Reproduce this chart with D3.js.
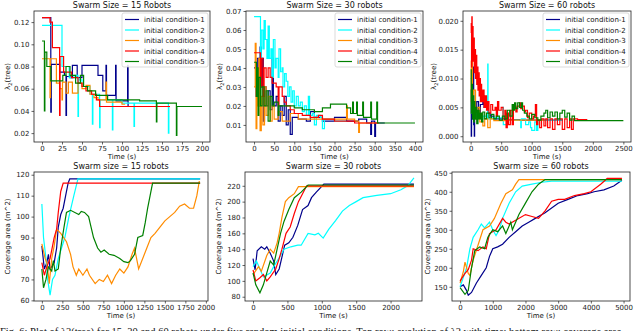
<!DOCTYPE html>
<html>
<head>
<meta charset="utf-8">
<script src="https://cdn.jsdelivr.net/npm/d3@7"></script>
<style>
  body { margin: 0; background: #fff; }
  svg { display: block; font-family: "DejaVu Sans", sans-serif; }
</style>
</head>
<body>
<svg id="chart" width="640" height="331"></svg>
<script>
// Series names / colours
const seriesNames = ['initial condition-1', 'initial condition-2', 'initial condition-3', 'initial condition-4', 'initial condition-5'];
const seriesColors = ['#00008b', '#00ffff', '#ff8c00', '#ff0000', '#008000'];

// ---- lambda2(tree), 15 robots : [time, value]
const lam15_1 = [[0,0.124],[11,0.124],[11,0.039],[11.6,0.082],[20,0.082],[22,0.075],[28,0.072],[30,0.036],[30.6,0.071],[35,0.07],[38,0.081],[42,0.081],[44,0.07],[50,0.081],[70,0.081],[70,0.072],[76,0.072],[76,0.058],[80,0.058],[80,0.081],[80.6,0.054],[92,0.054],[92,0.081],[92.6,0.049],[107,0.049],[107,0.081],[107.6,0.044],[112,0.044]];
const lam15_2 = [[0,0.117],[25,0.117],[25,0.08],[32,0.08],[34,0.07],[40,0.072],[45,0.035],[45.6,0.068],[50,0.062],[58,0.062],[60,0.055],[63,0.028],[63.6,0.055],[72,0.025],[72.6,0.05],[88,0.023],[88.6,0.05],[100,0.047],[115,0.026],[115.6,0.047],[158,0.047],[158,0.02],[158.6,0.044]];
const lam15_3 = [[0,0.087],[8,0.087],[10,0.052],[10.6,0.087],[15,0.087],[18,0.065],[22,0.06],[25,0.05],[25.6,0.066],[30,0.056],[33,0.066],[38,0.056],[45,0.065],[50,0.06],[55,0.063],[60,0.055],[65,0.052],[70,0.05],[80,0.066],[80.6,0.048],[95,0.048],[100,0.046],[104,0.046]];
const lam15_4 = [[0,0.124],[10,0.124],[10,0.12],[13,0.097],[20,0.097],[22,0.036],[22.6,0.089],[25,0.089],[27,0.075],[35,0.075],[37,0.07],[45,0.065],[50,0.062],[55,0.058],[62,0.055],[68,0.05],[72,0.044],[160,0.044]];
const lam15_5 = [[0,0.103],[3,0.103],[3,0.04],[3.6,0.093],[5,0.093],[6,0.08],[10,0.08],[11,0.067],[25,0.067],[26,0.072],[30,0.08],[35,0.072],[40,0.072],[42,0.065],[48,0.072],[52,0.062],[57,0.058],[65,0.058],[67,0.054],[80,0.054],[82,0.05],[120,0.05],[122,0.049],[143,0.049],[143,0.03],[143.6,0.047],[168,0.047],[168,0.018],[168.6,0.044],[200,0.044]];

// ---- lambda2(tree), 30 robots
const lam30_1 = [[0,0.04],[5,0.025],[8,0.045],[12,0.02],[15,0.051],[18,0.03],[20,0.045],[23,0.012],[26,0.03],[30,0.02],[35,0.028],[40,0.018],[45,0.045],[48,0.02],[55,0.025],[60,0.012],[65,0.02],[70,0.015],[75,0.025],[80,0.01],[85,0.018],[90,0.005],[95,0.014],[110,0.013],[130,0.012],[140,0.017],[150,0.014],[170,0.012],[200,0.014],[230,0.012],[260,0.013],[280,0.011],[290,0.005],[292,0.012],[300,0.004],[302,0.011],[325,0.011]];
const lam30_2 = [[0,0.067],[15,0.067],[16,0.045],[18,0.06],[22,0.05],[25,0.065],[28,0.055],[32,0.045],[35,0.062],[38,0.045],[42,0.05],[45,0.035],[48,0.055],[52,0.04],[55,0.045],[60,0.035],[62,0.05],[66,0.038],[70,0.04],[72,0.03],[76,0.037],[80,0.033],[84,0.025],[88,0.03],[92,0.022],[96,0.028],[100,0.02],[105,0.025],[110,0.02],[115,0.022],[120,0.017],[125,0.02],[130,0.015],[135,0.025],[138,0.015],[145,0.016],[150,0.01],[155,0.015],[165,0.014],[170,0.008],[175,0.013],[190,0.013],[200,0.012],[230,0.012]];
const lam30_3 = [[0,0.03],[3,0.053],[5,0.008],[7,0.035],[10,0.02],[12,0.045],[15,0.007],[18,0.025],[22,0.01],[26,0.03],[30,0.015],[35,0.025],[40,0.012],[45,0.02],[50,0.013],[60,0.017],[70,0.012],[90,0.016],[110,0.013],[150,0.013],[200,0.013],[228,0.013],[230,0.02],[232,0.013],[250,0.012],[260,0.006],[262,0.011],[310,0.011]];
const lam30_4 = [[0,0.048],[15,0.048],[16,0.03],[18,0.045],[22,0.025],[25,0.04],[30,0.035],[35,0.04],[40,0.035],[45,0.032],[55,0.03],[60,0.02],[62,0.03],[70,0.025],[75,0.022],[80,0.02],[90,0.018],[100,0.016],[120,0.015],[140,0.014],[160,0.015],[170,0.013],[200,0.012],[250,0.011],[310,0.011]];
const lam30_5 = [[0,0.043],[5,0.043],[6,0.025],[8,0.04],[10,0.015],[12,0.035],[16,0.02],[20,0.03],[25,0.02],[30,0.028],[35,0.012],[40,0.025],[45,0.02],[50,0.022],[60,0.015],[62,0.02],[80,0.02],[100,0.019],[120,0.018],[150,0.017],[170,0.019],[190,0.021],[230,0.019],[240,0.016],[245,0.022],[247,0.016],[255,0.022],[257,0.015],[270,0.022],[272,0.014],[290,0.022],[292,0.013],[305,0.022],[307,0.011],[400,0.011]];

// ---- lambda2(tree), 60 robots
const lam60_1 = [[0,0.008],[10,0.0],[15,0.006],[30,0.003],[40,0.012],[50,0.002],[60,0.0],[65,0.005],[80,0.003],[100,0.006],[130,0.0035],[160,0.0055],[200,0.007],[220,0.005],[250,0.0055],[280,0.004],[320,0.0035],[380,0.003],[450,0.003],[550,0.0029],[800,0.0028],[1200,0.0028],[1500,0.0027]];
const lam60_2 = [[0,0.01],[20,0.004],[40,0.006],[60,0.003],[100,0.004],[150,0.003],[200,0.0035],[270,0.003],[280,0.0125],[285,0.003],[350,0.0032],[520,0.003],[530,0.005],[535,0.002],[600,0.0028],[800,0.0028],[820,0.0015],[830,0.003],[900,0.002],[950,0.0025],[980,0.0015],[1000,0.001],[1050,0.0025],[1080,0.001],[1100,0.0028],[1500,0.0027]];
const lam60_3 = [[0,0.013],[10,0.006],[20,0.015],[30,0.004],[50,0.008],[80,0.003],[120,0.005],[150,0.0025],[200,0.0018],[230,0.003],[280,0.0015],[320,0.003],[380,0.0027],[600,0.0028],[900,0.0028],[1200,0.0027]];
const lam60_4 = [[0,0.018],[10,0.0195],[15,0.012],[20,0.0207],[25,0.015],[30,0.019],[40,0.013],[50,0.017],[60,0.011],[70,0.015],[80,0.010],[90,0.014],[100,0.009],[110,0.012],[120,0.008],[130,0.011],[140,0.007],[150,0.010],[160,0.006],[170,0.009],[180,0.006],[200,0.008],[220,0.005],[240,0.007],[260,0.0045],[280,0.006],[300,0.004],[330,0.0055],[360,0.0045],[400,0.005],[420,0.0035],[440,0.006],[460,0.0045],[500,0.005],[530,0.003],[560,0.0045],[580,0.0015],[600,0.004],[620,0.002],[650,0.0045],[680,0.002],[700,0.005],[740,0.0042],[760,0.0052],[800,0.0058],[820,0.0048],[850,0.0052],[880,0.0042],[900,0.0045],[930,0.0032],[960,0.004],[1000,0.003],[1030,0.0035],[1060,0.0055],[1080,0.002],[1100,0.0028],[1130,0.0015],[1160,0.003],[1200,0.0018],[1230,0.003],[1260,0.0015],[1300,0.003],[1340,0.0012],[1380,0.003],[1420,0.002],[1460,0.003],[1500,0.0012],[1540,0.003],[1580,0.0015],[1620,0.003],[1650,0.0012],[1680,0.003],[1750,0.0029],[1900,0.0028]];
const lam60_5 = [[0,0.0115],[10,0.004],[20,0.009],[30,0.003],[40,0.007],[50,0.0025],[60,0.006],[70,0.003],[80,0.005],[100,0.0022],[120,0.0045],[140,0.003],[160,0.004],[180,0.0025],[200,0.0042],[230,0.003],[260,0.004],[300,0.0032],[340,0.0038],[380,0.003],[420,0.0035],[470,0.0028],[520,0.0035],[560,0.003],[600,0.0045],[640,0.0035],[680,0.0055],[700,0.0045],[720,0.0058],[740,0.0048],[770,0.0058],[800,0.005],[830,0.0058],[850,0.0045],[880,0.004],[920,0.0035],[960,0.003],[1000,0.0038],[1050,0.0032],[1100,0.0028],[1150,0.0035],[1200,0.004],[1230,0.0045],[1260,0.0032],[1300,0.0042],[1340,0.0035],[1380,0.0042],[1420,0.003],[1460,0.004],[1500,0.0045],[1540,0.0033],[1580,0.004],[1620,0.0028],[1660,0.0035],[1700,0.0027],[2500,0.0027]];

// ---- coverage area (m^2), 15 robots
const cov15_1 = [[0,86],[30,75],[60,78],[80,82],[100,75],[150,78],[180,85],[200,95],[230,101],[260,104],[290,110],[320,116],[340,118],[1930,118]];
const cov15_2 = [[0,106],[20,90],[50,80],[70,70],[100,62.5],[130,70],[160,72],[200,80],[280,90],[330,100],[390,110],[440,118],[1930,118]];
const cov15_3 = [[0,87],[40,80],[60,78],[80,72],[90,68],[120,80],[150,86],[180,94],[230,92],[300,88],[350,82],[380,76],[420,72],[450,75],[500,72],[550,75],[580,72],[650,68],[700,70],[750,69],[800,72],[850,68],[900,72],[950,75],[1000,73],[1050,76],[1100,82],[1130,85],[1180,75],[1230,80],[1280,85],[1330,90],[1380,92],[1440,95],[1500,98],[1560,100],[1620,102],[1680,105],[1740,106],[1800,104],[1850,104],[1890,110],[1920,117]];
const cov15_4 = [[0,78],[30,72],[60,76],[100,80],[150,90],[180,94],[200,102],[230,112],[260,116],[1930,116]];
const cov15_5 = [[0,75],[20,66],[50,70],[80,76],[120,74],[140,79],[160,74],[200,75],[230,85],[270,95],[300,102],[350,103],[450,101],[480,102.5],[520,102],[570,100],[600,95],[630,90],[680,85],[720,83],[760,84],[820,82],[880,81.5],[950,80],[1000,78.5],[1050,78],[1080,79],[1130,82],[1170,90],[1230,91],[1260,97],[1290,104],[1320,110],[1350,116],[1930,116]];

// ---- coverage area (m^2), 30 robots
const cov30_1 = [[0,128],[30,114],[60,138],[120,143],[170,140],[200,143],[250,135],[300,125],[330,108],[380,115],[420,130],[460,145],[520,148],[580,155],[650,170],[720,190],[800,195],[850,205],[920,212],[1030,222],[2340,222]];
const cov30_2 = [[0,118],[50,125],[100,115],[150,105],[250,110],[300,118],[400,132],[450,140],[550,143],[650,145],[700,145],[800,160],[900,158],[950,160],[1020,154],[1100,165],[1200,176],[1300,188],[1400,195],[1500,200],[1600,205],[1800,208],[2000,210],[2150,215],[2250,220],[2340,230]];
const cov30_3 = [[0,108],[80,118],[120,112],[200,132],[250,140],[300,135],[350,148],[380,160],[420,180],[470,200],[520,205],[600,210],[660,219],[2340,219]];
const cov30_4 = [[0,114],[40,100],[100,104],[150,108],[200,100],[250,105],[330,115],[380,128],[420,140],[480,160],[540,168],[600,185],[660,200],[720,210],[780,220],[2340,220]];
const cov30_5 = [[0,110],[40,95],[100,85],[150,95],[200,110],[250,125],[300,120],[350,140],[400,160],[450,175],[520,190],[600,205],[700,212],[800,221],[2340,221]];

// ---- coverage area (m^2), 60 robots
const cov60_1 = [[0,150],[100,155],[200,140],[250,128],[350,135],[500,160],[650,180],[800,200],[900,230],[1000,250],[1150,255],[1300,262],[1500,280],[1700,295],[1900,310],[2100,320],[2300,330],[2600,345],[3000,370],[3300,380],[3600,390],[3900,395],[4100,400],[4400,405],[4700,415],[4950,430]];
const cov60_2 = [[0,150],[100,175],[200,200],[300,250],[400,280],[550,300],[650,315],[750,305],[900,320],[1000,300],[1100,285],[1200,300],[1300,330],[1500,370],[1700,400],[1900,415],[2200,420],[2500,425],[2800,428],[4950,428]];
const cov60_3 = [[0,160],[100,190],[150,215],[250,185],[300,180],[400,220],[550,260],[700,300],[900,310],[1050,330],[1250,370],[1400,395],[1600,405],[1700,420],[1800,432],[4950,432]];
const cov60_4 = [[0,165],[50,172],[150,185],[250,195],[350,220],[400,250],[550,245],[700,255],[800,250],[900,290],[1100,300],[1300,330],[1400,320],[1500,315],[1700,325],[2000,340],[2200,335],[2400,330],[2600,350],[2800,375],[3000,380],[3200,380],[3500,390],[3800,395],[4000,400],[4300,420],[4500,435],[4950,435]];
const cov60_5 = [[0,148],[150,130],[250,140],[350,200],[450,245],[600,255],[750,250],[850,280],[1000,300],[1150,295],[1300,310],[1400,290],[1550,320],[1600,300],[1800,340],[2000,370],[2200,400],[2400,420],[2600,432],[4950,432]];

// ---- ticks
const lam15XTicks = [0,25,50,75,100,125,150,175,200];
const lam15YTicks = [0.02,0.04,0.06,0.08,0.10,0.12];
const lam30XTicks = [0,50,100,150,200,250,300,350,400];
const lam30YTicks = [0.01,0.02,0.03,0.04,0.05,0.06,0.07];
const lam60XTicks = [0,500,1000,1500,2000,2500];
const lam60YTicks = [0.000,0.005,0.010,0.015,0.020];
const cov15XTicks = [0,250,500,750,1000,1250,1500,1750,2000];
const cov15YTicks = [60,70,80,90,100,110,120];
const cov30XTicks = [0,500,1000,1500,2000];
const cov30YTicks = [80,100,120,140,160,180,200,220];
const cov60XTicks = [0,1000,2000,3000,4000,5000];
const cov60YTicks = [150,200,250,300,350,400,450];

const panels = [
  { title: 'Swarm Size = 15 Robots', box: [34,210,11,142], xd: [-10,210], yd: [0.012,0.130],
    xt: lam15XTicks, yt: lam15YTicks, yf: '.2f', step: true, legend: true, ylab: 'lam',
    data: [lam15_1, lam15_2, lam15_3, lam15_4, lam15_5] },
  { title: 'Swarm Size = 30 robots', box: [246,423,11,142], xd: [-20,420], yd: [0.001,0.070],
    xt: lam30XTicks, yt: lam30YTicks, yf: '.2f', step: true, legend: true, ylab: 'lam',
    data: [lam30_1, lam30_2, lam30_3, lam30_4, lam30_5] },
  { title: 'Swarm Size = 60 robots', box: [463,631,11,142], xd: [-125,2625], yd: [-0.001,0.0217],
    xt: lam60XTicks, yt: lam60YTicks, yf: '.3f', step: true, legend: true, ylab: 'lam',
    data: [lam60_1, lam60_2, lam60_3, lam60_4, lam60_5] },
  { title: 'Swarm size = 15 robots', box: [34,208,172,301], xd: [-96,2026], yd: [59.7,121.3],
    xt: cov15XTicks, yt: cov15YTicks, yf: 'd', step: false, legend: false, ylab: 'cov',
    data: [cov15_1, cov15_2, cov15_3, cov15_4, cov15_5] },
  { title: 'Swarm size = 30 robots', box: [245,422,172,301], xd: [-117,2457], yd: [74.6,237.4],
    xt: cov30XTicks, yt: cov30YTicks, yf: 'd', step: false, legend: false, ylab: 'cov',
    data: [cov30_1, cov30_2, cov30_3, cov30_4, cov30_5] },
  { title: 'Swarm size = 60 robots', box: [452,630,172,301], xd: [-247,5197], yd: [112.6,452],
    xt: cov60XTicks, yt: cov60YTicks, yf: 'd', step: false, legend: false, ylab: 'cov',
    data: [cov60_1, cov60_2, cov60_3, cov60_4, cov60_5] }
];

const svg = d3.select('#chart');

panels.forEach((p, i) => {
  const [x0, x1, y0, y1] = p.box;
  const x = d3.scaleLinear().domain(p.xd).range([x0, x1]);
  const y = d3.scaleLinear().domain(p.yd).range([y1, y0]);
  const g = svg.append('g');

  g.append('clipPath').attr('id', 'clip' + i)
    .append('rect').attr('x', x0).attr('y', y0).attr('width', x1 - x0).attr('height', y1 - y0);

  // lines
  const line = d3.line()
    .x(d => x(d[0])).y(d => y(d[1]))
    .curve(p.step ? d3.curveStepAfter : d3.curveLinear);
  const lg = g.append('g').attr('clip-path', `url(#clip${i})`);
  p.data.forEach((s, k) => {
    lg.append('path')
      .attr('d', line(s))
      .attr('fill', 'none')
      .attr('stroke', seriesColors[k])
      .attr('stroke-width', 1.2)
      .attr('stroke-linejoin', 'miter');
  });

  // axes
  const fmt = d3.format(p.yf);
  g.append('g').attr('transform', `translate(0,${y1})`)
    .call(d3.axisBottom(x).tickValues(p.xt).tickSize(2.5).tickPadding(2).tickFormat(d3.format('d')))
    .call(a => a.select('.domain').remove());
  g.append('g').attr('transform', `translate(${x0},0)`)
    .call(d3.axisLeft(y).tickValues(p.yt).tickSize(2.5).tickPadding(2).tickFormat(fmt))
    .call(a => a.select('.domain').remove());
  g.selectAll('.tick text').attr('font-size', 7).attr('fill', '#222')
    .attr('font-family', '"DejaVu Sans", sans-serif');
  g.selectAll('.tick line').attr('stroke', '#222').attr('stroke-width', 0.7);

  g.append('rect').attr('x', x0).attr('y', y0).attr('width', x1 - x0).attr('height', y1 - y0)
    .attr('fill', 'none').attr('stroke', '#222').attr('stroke-width', 0.8);

  // title
  g.append('text').attr('x', (x0 + x1) / 2).attr('y', y0 - 3)
    .attr('text-anchor', 'middle').attr('font-size', 8).attr('fill', '#111').text(p.title);

  // x label
  g.append('text').attr('x', (x0 + x1) / 2).attr('y', y1 + 17)
    .attr('text-anchor', 'middle').attr('font-size', 7).attr('fill', '#111').text('Time (s)');

  // y label
  const yl = g.append('text')
    .attr('transform', `translate(${x0 - (p.ylab === 'lam' ? (i === 2 ? 25 : 22) : (i === 5 ? 20 : 22)) - 2},${(y0 + y1) / 2}) rotate(-90)`)
    .attr('text-anchor', 'middle').attr('font-size', 7).attr('fill', '#111');
  if (p.ylab === 'lam') {
    yl.append('tspan').text('λ');
    yl.append('tspan').attr('font-size', 5).attr('dy', 1.5).text('2');
    yl.append('tspan').attr('dy', -1.5).text('(tree)');
  } else {
    yl.text('Coverage area (m^2)');
  }

  // legend
  if (p.legend) {
    const lw = 86, lh = 54;
    const lx = x1 - 2 - lw, ly = y0 + 2;
    const leg = g.append('g');
    leg.append('rect').attr('x', lx).attr('y', ly).attr('width', lw).attr('height', lh)
      .attr('rx', 2).attr('fill', '#fff').attr('fill-opacity', 0.85)
      .attr('stroke', '#ccc').attr('stroke-width', 0.7);
    seriesNames.forEach((n, k) => {
      const yy = ly + 6.5 + k * 10.5;
      leg.append('line').attr('x1', lx + 3).attr('x2', lx + 17).attr('y1', yy).attr('y2', yy)
        .attr('stroke', seriesColors[k]).attr('stroke-width', 1.2);
      leg.append('text').attr('x', lx + 22).attr('y', yy + 2.5)
        .attr('font-size', 7).attr('fill', '#111').text(n);
    });
  }
});

// caption (the reference image cuts it off at the bottom edge)
svg.append('text').attr('x', 0).attr('y', 335)
  .attr('font-family', '"Liberation Serif", serif').attr('font-size', 10.5).attr('fill', '#111')
  .text('Fig. 6: Plot of λ2(tree) for 15, 30 and 60 robots under five random initial conditions. Top row: evolution of λ2 with time; bottom row: coverage area.');
</script>
</body>
</html>
